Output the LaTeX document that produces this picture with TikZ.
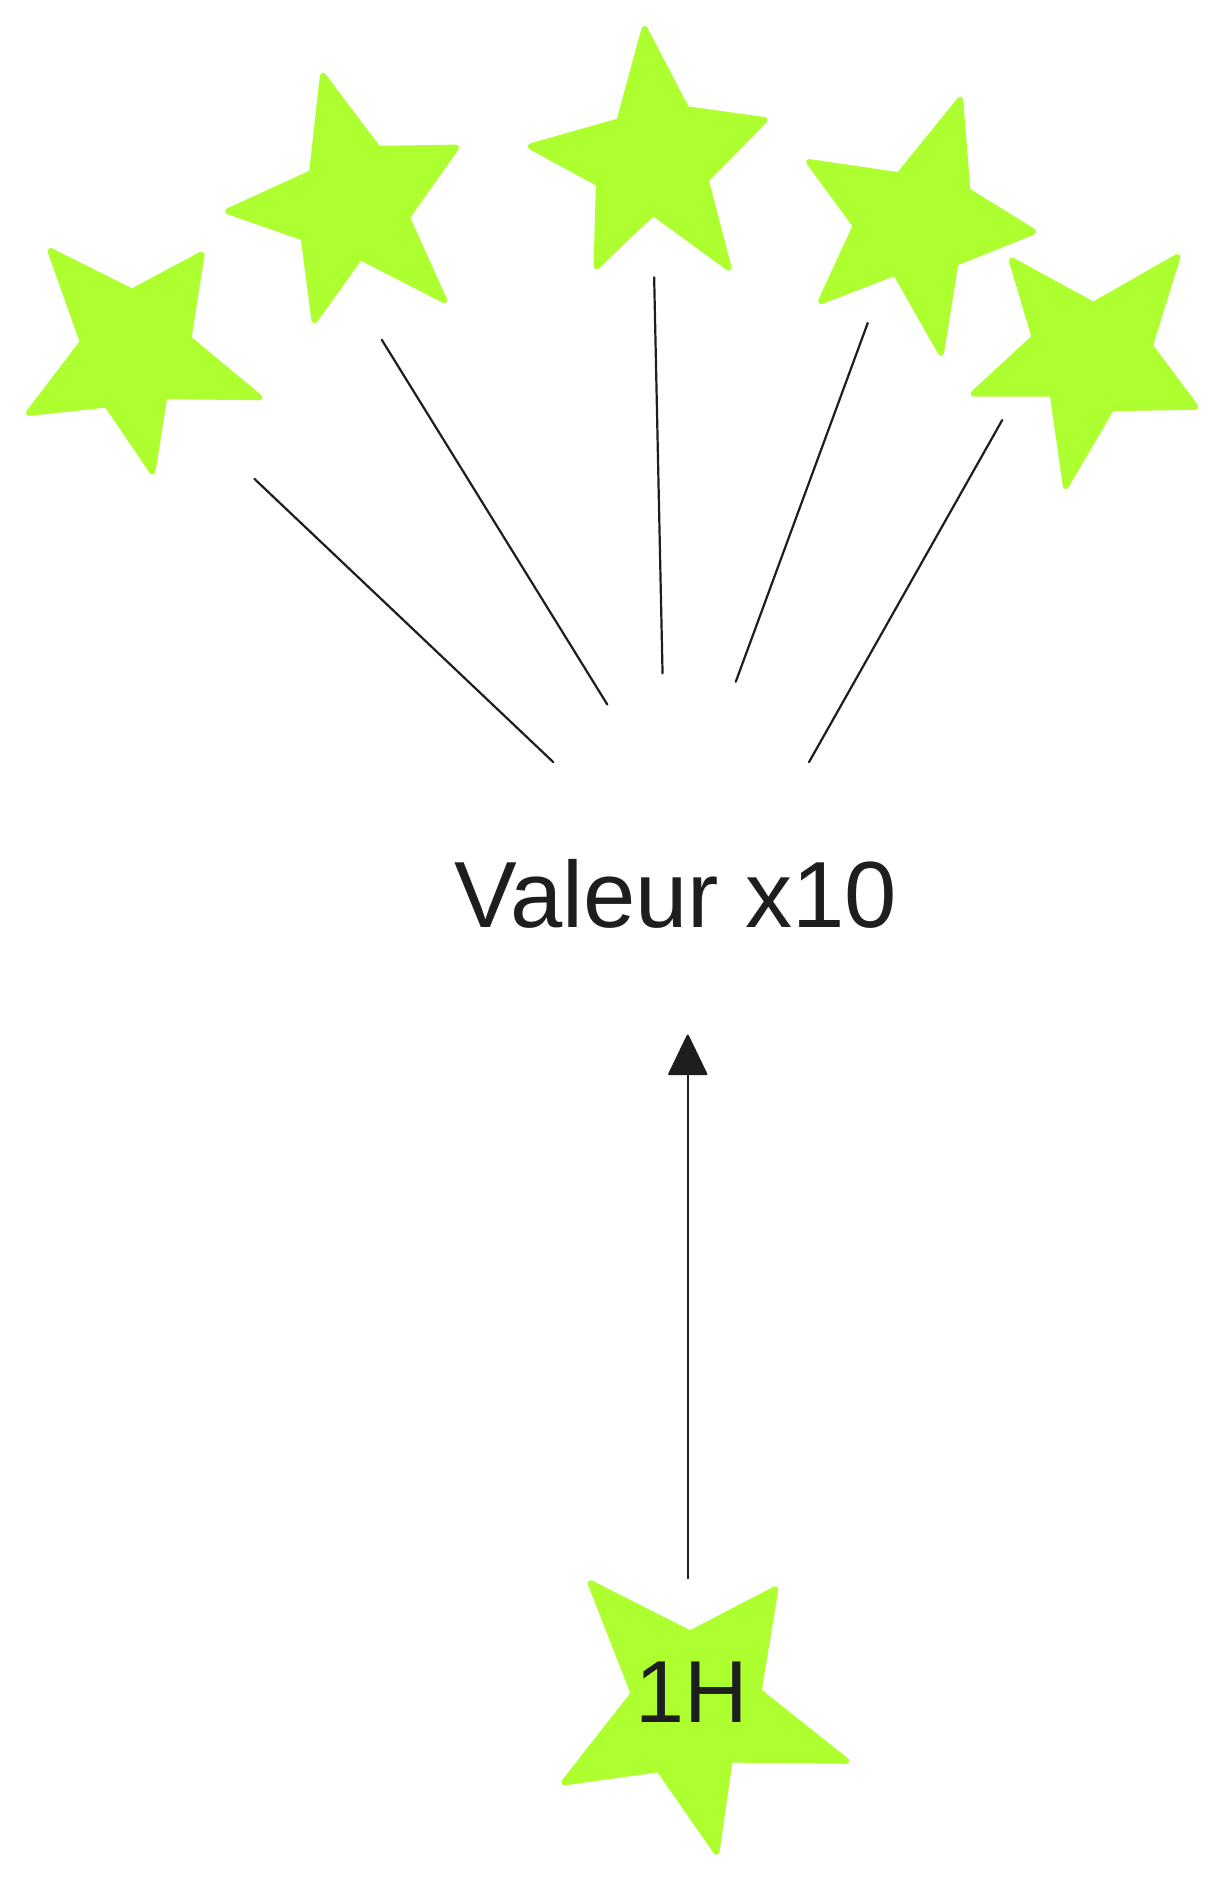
\documentclass[tikz,border=0pt]{standalone}
\usepackage{fontspec}
\setmainfont{Liberation Sans}
\usetikzlibrary{arrows.meta}
\definecolor{stargreen}{HTML}{ADFF2F}
\definecolor{ink}{HTML}{1E1E1E}
\tikzset{
  starshape/.style={fill=stargreen, draw=stargreen, line width=3pt, line join=round},
  ray/.style={draw=ink, line width=1.1pt, line cap=round},
  labeltext/.style={text=ink, font=\fontsize{47}{50}\selectfont, inner sep=0pt},
  smalllabel/.style={text=ink, font=\fontsize{44}{48}\selectfont, inner sep=0pt},
}
\begin{document}
\begin{tikzpicture}[x=0.6pt,y=-0.6pt]
\useasboundingbox (0,0) rectangle (1019,1568);
% stars
\filldraw[starshape] (42,209) -- (110,243) -- (168,212) -- (157,282) -- (216,331) -- (137,330) -- (127,393) -- (89,337) -- (24,344) -- (69,285) -- cycle;
\filldraw[starshape] (269,63) -- (315,124) -- (380,123) -- (339,181) -- (370,250) -- (300,214) -- (262,267) -- (253,198) -- (190,176) -- (260,144) -- cycle;
\filldraw[starshape] (537,24) -- (572,91) -- (637,100) -- (588,150) -- (607,223) -- (544,177) -- (497,222) -- (499,153) -- (442,122) -- (516,101) -- cycle;
\filldraw[starshape] (800,83) -- (806,159) -- (861,193) -- (796,219) -- (784,294) -- (746,227) -- (684,251) -- (713,188) -- (674,135) -- (749,146) -- cycle;
\filldraw[starshape] (843,217) -- (911,254) -- (981,214) -- (958,288) -- (996,339) -- (926,340) -- (888,405) -- (877,328) -- (811,328) -- (862,281) -- cycle;
\filldraw[starshape] (492,1319) -- (575,1361) -- (646,1324) -- (632,1409) -- (705,1467) -- (608,1466) -- (597,1543) -- (549,1474) -- (470,1485) -- (528,1411) -- cycle;
% texts
\node[labeltext] (val) at (563,745) {Valeur x10};
\node[smalllabel] (oneh) at (576,1410) {1H};
% ray end points
\coordinate (r1a) at (212,399); \coordinate (r1b) at (461,635);
\coordinate (r2a) at (318,283); \coordinate (r2b) at (506,587);
\coordinate (r3a) at (545,231); \coordinate (r3b) at (552,561);
\coordinate (r4a) at (723,269); \coordinate (r4b) at (613,568);
\coordinate (r5a) at (835,350); \coordinate (r5b) at (674,635);
\draw[ray] (r1a) -- (r1b);
\draw[ray] (r2a) -- (r2b);
\draw[ray] (r3a) -- (r3b);
\draw[ray] (r4a) -- (r4b);
\draw[ray] (r5a) -- (r5b);
% arrow
\coordinate (arrs) at (573,1315);
\coordinate (arre) at (573,862);
\draw[ray, -{Triangle[length=21pt,width=20pt,round]}, fill=ink] (arrs) -- (arre);
\end{tikzpicture}
\end{document}
